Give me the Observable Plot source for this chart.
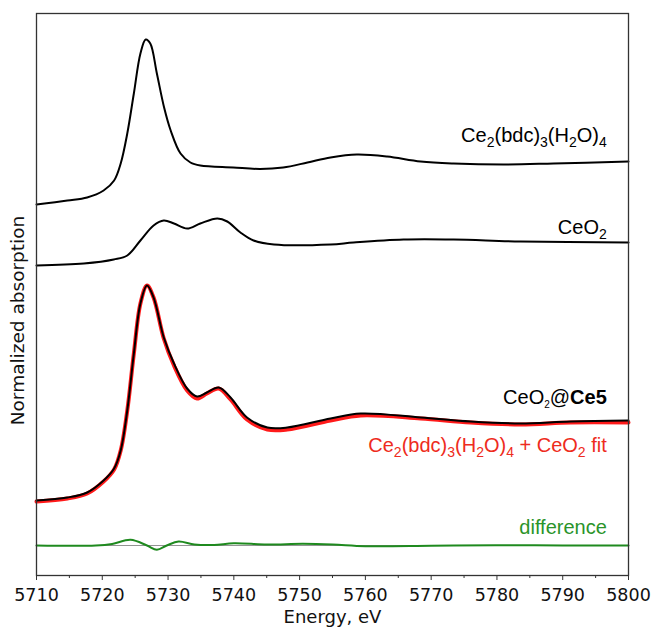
<!DOCTYPE html>
<html><head><meta charset="utf-8">
<script src="https://cdn.jsdelivr.net/npm/d3@7"></script>
<script src="https://cdn.jsdelivr.net/npm/@observablehq/plot@0.6"></script>
<style>body{margin:0;background:#fff} svg{overflow:visible}</style>
</head><body><div id="chart"></div>
<script>
// ---- data (offset normalized absorption, arbitrary units) ----
const energyMof = [5710, 5714.7, 5717.7, 5720.2, 5721.8, 5722.8, 5723.8, 5724.8, 5725.8, 5726.6, 5727.3, 5728.3, 5729.4, 5730.4, 5731.9, 5733.4, 5734.9, 5739.9, 5744, 5747.5, 5751.2, 5754.7, 5758.7, 5763.3, 5768.4, 5773.4, 5781, 5788.6, 5800];
const absMof = [3.71, 3.75, 3.78, 3.85, 3.95, 4.12, 4.42, 4.82, 5.22, 5.36, 5.32, 5.02, 4.68, 4.45, 4.22, 4.13, 4.10, 4.08, 4.065, 4.08, 4.13, 4.18, 4.21, 4.19, 4.14, 4.12, 4.11, 4.12, 4.14];

const energyCeO2 = [5710, 5717.2, 5721.75, 5723.8, 5725.8, 5727.8, 5729.35, 5730.9, 5732.9, 5734.9, 5737.5, 5739, 5741, 5743, 5746.1, 5754.7, 5758.2, 5765.8, 5773.4, 5783.6, 5800];
const absCeO2 = [3.10, 3.12, 3.16, 3.20, 3.35, 3.50, 3.55, 3.52, 3.47, 3.52, 3.57, 3.54, 3.43, 3.35, 3.31, 3.31, 3.33, 3.36, 3.36, 3.34, 3.33];

const energyCe5 = [5710, 5714.7, 5717.7, 5720.2, 5721.8, 5722.8, 5723.8, 5724.8, 5725.8, 5726.8, 5727.8, 5729.35, 5730.9, 5732.9, 5734.4, 5735.9, 5737.7, 5739.5, 5742, 5745.1, 5748.1, 5754.7, 5759.3, 5768.4, 5776, 5783.6, 5791.2, 5800];
const absCe5 = [0.75, 0.78, 0.83, 0.95, 1.07, 1.25, 1.65, 2.22, 2.72, 2.90, 2.78, 2.38, 2.12, 1.87, 1.79, 1.83, 1.88, 1.78, 1.58, 1.48, 1.48, 1.57, 1.62, 1.58, 1.54, 1.52, 1.54, 1.55];
const absFit = [0.74, 0.77, 0.82, 0.94, 1.06, 1.25, 1.65, 2.22, 2.72, 2.90, 2.78, 2.37, 2.10, 1.85, 1.77, 1.82, 1.87, 1.76, 1.56, 1.46, 1.46, 1.55, 1.60, 1.57, 1.53, 1.51, 1.53, 1.53];

const energyDiff = [5710, 5719, 5721.5, 5724.3, 5726.8, 5728.3, 5729.8, 5731.6, 5734, 5737, 5740, 5745, 5750.5, 5755, 5760, 5770, 5780, 5790, 5800];
const diffValues = [0, 0, 0.015, 0.057, 0, -0.043, 0, 0.04, 0.01, 0.005, 0.023, 0.01, 0.017, 0.01, -0.007, -0.003, 0.003, 0, 0];
const diffOffset = 0.30;

const majorTicks = [5710, 5720, 5730, 5740, 5750, 5760, 5770, 5780, 5790, 5800];
const minorTicks = [5715, 5725, 5735, 5745, 5755, 5765, 5775, 5785, 5795];

const seriesLabels = ["Ce_2(bdc)_3(H_2O)_4", "CeO_2", "CeO~2@*Ce5*", "Ce_2(bdc)_3(H_2O)_4 + CeO_2 fit", "difference"];
const xLabel = "Energy, eV";
const yLabel = "Normalized absorption";

// ---- build tables ----
const mof = energyMof.map((e, i) => ({e, v: absMof[i]}));
const ceo2 = energyCeO2.map((e, i) => ({e, v: absCeO2[i]}));
const ce5 = energyCe5.map((e, i) => ({e, v: absCe5[i]}));
const fit = energyCe5.map((e, i) => ({e, v: absFit[i]}));
const diff = energyDiff.map((e, i) => ({e, v: diffValues[i] + diffOffset}));

const labelX = 5796.7;
const labelLayout = [
  {y: 4.397, color: "#000"},
  {y: 3.481, color: "#000"},
  {y: 1.781, color: "#000"},
  {y: 1.297, color: "#ee2b20"},
  {y: 0.481, color: "#2a942a"}
];
const labelRows = seriesLabels.map((t, i) => ({t, x: labelX, y: labelLayout[i].y, c: labelLayout[i].color}));

const DJ = "DejaVu Sans";
const chart = Plot.plot({
  width: 653, height: 629,
  marginTop: 13, marginRight: 25, marginBottom: 54, marginLeft: 36,
  style: {background: "#fff", fontFamily: DJ, overflow: "visible"},
  x: {domain: [5710, 5800]},
  y: {domain: [0, 5.62], axis: null},
  marks: [
    Plot.ruleY([diffOffset], {stroke: "#777", strokeWidth: 0.8}),
    Plot.line(mof, {x: "e", y: "v", stroke: "#000", strokeWidth: 2, curve: "catmull-rom"}),
    Plot.line(ceo2, {x: "e", y: "v", stroke: "#000", strokeWidth: 2, curve: "catmull-rom"}),
    Plot.line(fit, {x: "e", y: "v", stroke: "#ff1a1a", strokeWidth: 4, curve: "catmull-rom"}),
    Plot.line(ce5, {x: "e", y: "v", stroke: "#000", strokeWidth: 2, curve: "catmull-rom"}),
    Plot.line(diff, {x: "e", y: "v", stroke: "#1f8a1f", strokeWidth: 2, curve: "catmull-rom"}),
    Plot.frame({stroke: "#333", strokeWidth: 1.3}),
    Plot.axisX({ticks: majorTicks, tickSize: 5, tickPadding: 8, tickFormat: d => String(d), fontSize: 17.5, fontFamily: DJ, label: null, stroke: "#333", fill: "#111"}),
    Plot.axisX({ticks: minorTicks, tickSize: 3, tickFormat: () => "", label: null, stroke: "#333"}),
    Plot.text([xLabel], {frameAnchor: "bottom", dy: 42, lineAnchor: "middle", textAnchor: "middle", fontSize: 18, fontFamily: DJ, fill: "#111"}),
    Plot.text([yLabel], {frameAnchor: "left", rotate: -90, dx: -18, dy: 26, lineAnchor: "middle", textAnchor: "middle", fontSize: 18.5, fontFamily: DJ, fill: "#111"}),
    Plot.text(labelRows, {x: "x", y: "y", text: "t", fill: "c", textAnchor: "end", lineAnchor: "middle", fontSize: 20, fontFamily: "Liberation Sans"})
  ]
});
document.getElementById("chart").appendChild(chart);

// rich text: _x subscript, ~x small subscript, *...* bold
const NS = "http://www.w3.org/2000/svg";
chart.querySelectorAll("text").forEach(el => {
  const s = el.textContent;
  if (!seriesLabels.includes(s)) { el.setAttribute("font-family", DJ); return; }
  while (el.firstChild) el.removeChild(el.firstChild);
  let i = 0, bold = false, pending = 0;
  while (i < s.length) {
    const c = s[i];
    if (c === "*") { bold = !bold; i++; continue; }
    if (c === "_" || c === "~") {
      const t = document.createElementNS(NS, "tspan");
      const shift = c === "_" ? 5 : 4;
      t.textContent = s[i + 1];
      t.setAttribute("font-size", c === "_" ? "14" : "10");
      t.setAttribute("dy", String(shift + pending));
      pending = -shift;
      el.appendChild(t);
      i += 2; continue;
    }
    let j = i;
    while (j < s.length && !"*_~".includes(s[j])) j++;
    const t = document.createElementNS(NS, "tspan");
    t.textContent = s.slice(i, j);
    if (pending) { t.setAttribute("dy", String(pending)); pending = 0; }
    if (bold) t.setAttribute("font-weight", "bold");
    el.appendChild(t);
    i = j;
  }
});
</script></body></html>
